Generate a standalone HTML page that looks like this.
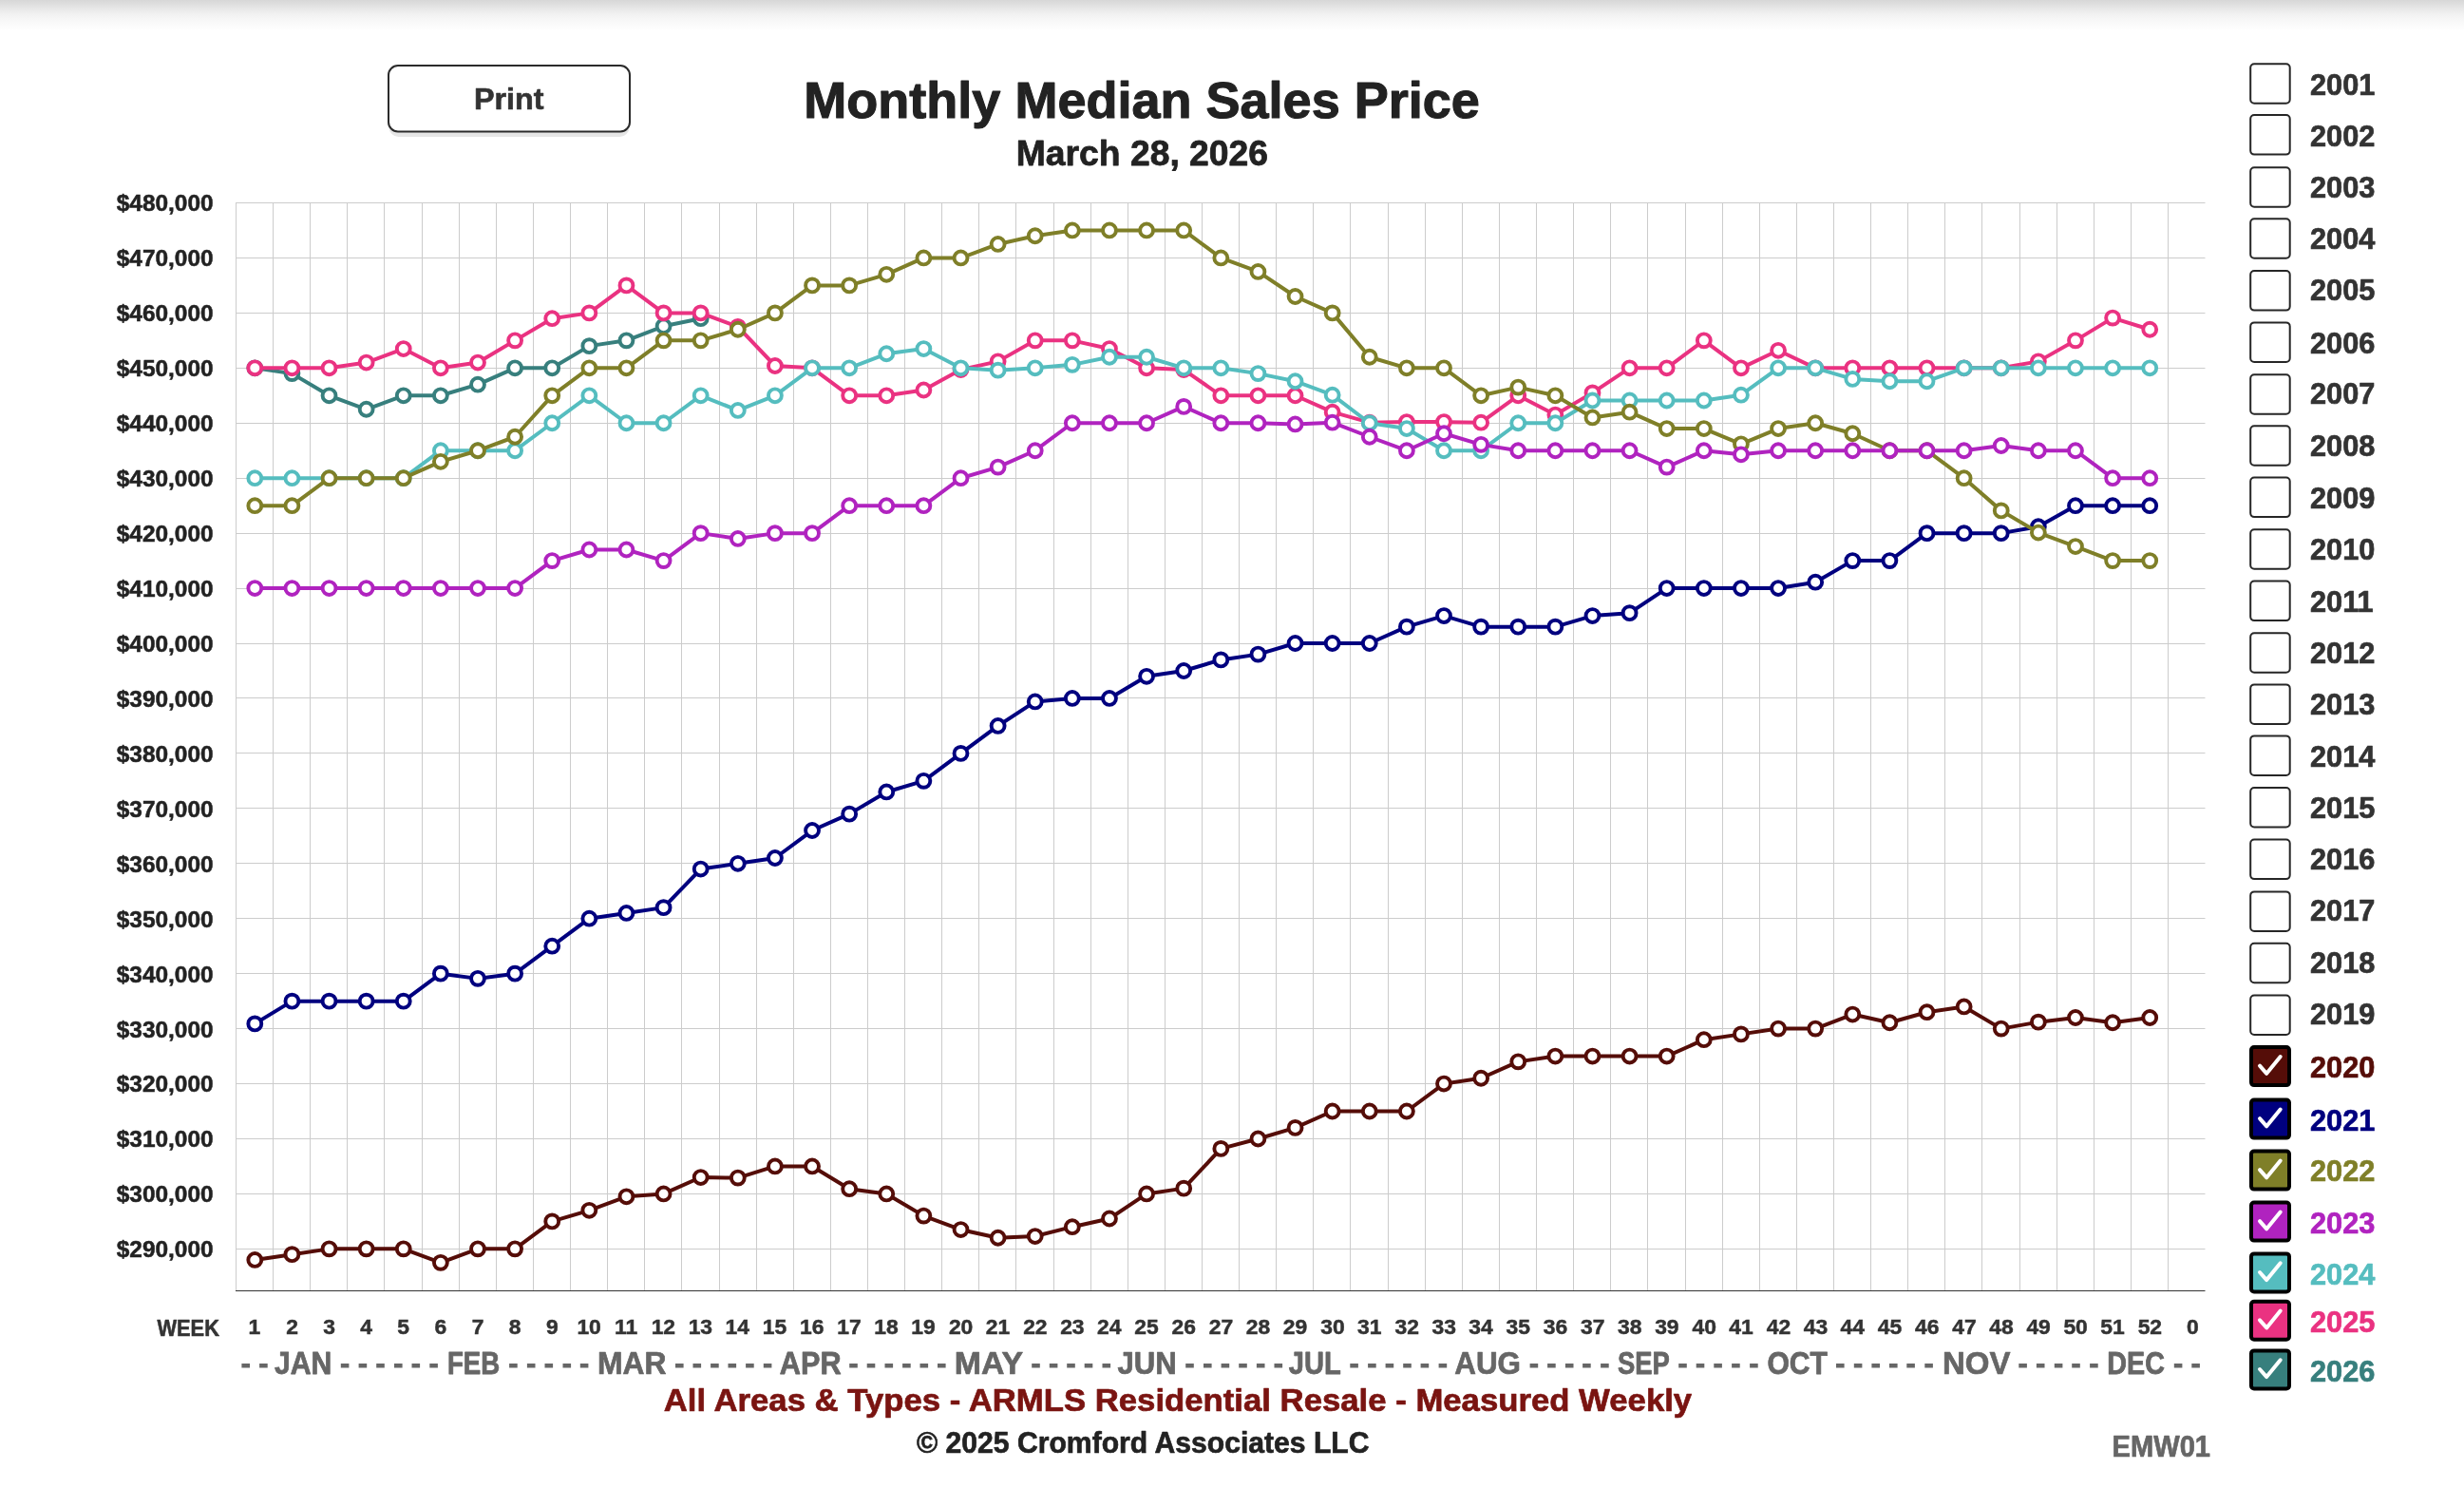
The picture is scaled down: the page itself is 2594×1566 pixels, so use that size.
<!DOCTYPE html>
<html><head><meta charset="utf-8"><title>Monthly Median Sales Price</title>
<style>
html,body{margin:0;padding:0;background:#fff;width:2594px;height:1566px;overflow:hidden}
svg{display:block;will-change:transform}
text{font-family:"Liberation Sans",sans-serif;font-weight:bold}
</style></head><body>
<svg width="2594" height="1566" viewBox="0 0 2594 1566">
<defs>
<linearGradient id="topsh" x1="0" y1="0" x2="0" y2="1">
<stop offset="0" stop-color="#d7d7d7"/>
<stop offset="0.16" stop-color="#e0e0e0"/>
<stop offset="0.31" stop-color="#e9e9e9"/>
<stop offset="0.47" stop-color="#f1f1f1"/>
<stop offset="0.62" stop-color="#f6f6f6"/>
<stop offset="0.78" stop-color="#fafafa"/>
<stop offset="0.92" stop-color="#fdfdfd"/>
<stop offset="1" stop-color="#ffffff"/>
</linearGradient>
</defs>
<rect x="0" y="0" width="2594" height="32" fill="url(#topsh)"/>

<rect x="409.5" y="74" width="253" height="70" rx="10" fill="#e6e6e6"/>
<rect x="409" y="69" width="254" height="69.5" rx="10" fill="#fff" stroke="#2b2b2b" stroke-width="2"/>
<path d="M248.50 213.50V1358.50M287.50 213.50V1358.50M326.50 213.50V1358.50M365.50 213.50V1358.50M404.50 213.50V1358.50M444.50 213.50V1358.50M483.50 213.50V1358.50M522.50 213.50V1358.50M561.50 213.50V1358.50M600.50 213.50V1358.50M639.50 213.50V1358.50M678.50 213.50V1358.50M717.50 213.50V1358.50M757.50 213.50V1358.50M796.50 213.50V1358.50M835.50 213.50V1358.50M874.50 213.50V1358.50M913.50 213.50V1358.50M952.50 213.50V1358.50M991.50 213.50V1358.50M1030.50 213.50V1358.50M1069.50 213.50V1358.50M1109.50 213.50V1358.50M1148.50 213.50V1358.50M1187.50 213.50V1358.50M1226.50 213.50V1358.50M1265.50 213.50V1358.50M1304.50 213.50V1358.50M1343.50 213.50V1358.50M1382.50 213.50V1358.50M1421.50 213.50V1358.50M1461.50 213.50V1358.50M1500.50 213.50V1358.50M1539.50 213.50V1358.50M1578.50 213.50V1358.50M1617.50 213.50V1358.50M1656.50 213.50V1358.50M1695.50 213.50V1358.50M1734.50 213.50V1358.50M1774.50 213.50V1358.50M1813.50 213.50V1358.50M1852.50 213.50V1358.50M1891.50 213.50V1358.50M1930.50 213.50V1358.50M1969.50 213.50V1358.50M2008.50 213.50V1358.50M2047.50 213.50V1358.50M2086.50 213.50V1358.50M2126.50 213.50V1358.50M2165.50 213.50V1358.50M2204.50 213.50V1358.50M2243.50 213.50V1358.50M2282.50 213.50V1358.50M248.00 1314.50H2321.50M248.00 1256.50H2321.50M248.00 1198.50H2321.50M248.00 1140.50H2321.50M248.00 1082.50H2321.50M248.00 1024.50H2321.50M248.00 966.50H2321.50M248.00 908.50H2321.50M248.00 850.50H2321.50M248.00 792.50H2321.50M248.00 734.50H2321.50M248.00 677.50H2321.50M248.00 619.50H2321.50M248.00 561.50H2321.50M248.00 503.50H2321.50M248.00 445.50H2321.50M248.00 387.50H2321.50M248.00 329.50H2321.50M248.00 271.50H2321.50M248.00 213.50H2321.50" stroke="#cccccc" stroke-width="1" fill="none"/>
<path d="M248.0 1358.5H2321.5" stroke="#333" stroke-width="1.2" fill="none"/>
<g><polyline points="268.30,387.32 307.42,393.11 346.53,416.29 385.65,430.77 424.76,416.29 463.88,416.29 503.00,404.70 542.11,387.32 581.23,387.32 620.34,364.14 659.46,358.35 698.58,343.29 737.69,335.17" fill="none" stroke="#377f7d" stroke-width="4" stroke-linejoin="round"/><g fill="#fff" stroke="#377f7d" stroke-width="3.9"><circle cx="268.30" cy="387.32" r="6.95"/><circle cx="307.42" cy="393.11" r="6.95"/><circle cx="346.53" cy="416.29" r="6.95"/><circle cx="385.65" cy="430.77" r="6.95"/><circle cx="424.76" cy="416.29" r="6.95"/><circle cx="463.88" cy="416.29" r="6.95"/><circle cx="503.00" cy="404.70" r="6.95"/><circle cx="542.11" cy="387.32" r="6.95"/><circle cx="581.23" cy="387.32" r="6.95"/><circle cx="620.34" cy="364.14" r="6.95"/><circle cx="659.46" cy="358.35" r="6.95"/><circle cx="698.58" cy="343.29" r="6.95"/><circle cx="737.69" cy="335.17" r="6.95"/></g></g>
<g><polyline points="268.30,387.32 307.42,387.32 346.53,387.32 385.65,381.53 424.76,367.04 463.88,387.32 503.00,381.53 542.11,358.35 581.23,335.17 620.34,329.38 659.46,300.41 698.58,329.38 737.69,329.38 776.81,343.87 815.92,385.00 855.04,387.32 894.16,416.29 933.27,416.29 972.39,410.50 1011.50,389.06 1050.62,380.37 1089.74,358.35 1128.85,358.35 1167.97,367.04 1207.08,387.32 1246.20,389.06 1285.32,416.29 1324.43,416.29 1363.55,416.29 1402.66,433.67 1441.78,444.68 1480.90,444.10 1520.01,444.10 1559.13,444.68 1598.24,416.29 1637.36,436.57 1676.48,413.39 1715.59,387.32 1754.71,387.32 1793.82,358.35 1832.94,387.32 1872.06,368.78 1911.17,387.32 1950.29,387.32 1989.40,387.32 2028.52,387.32 2067.64,387.32 2106.75,387.32 2145.87,380.37 2184.98,358.35 2224.10,334.59 2263.22,346.76" fill="none" stroke="#ea3281" stroke-width="4" stroke-linejoin="round"/><g fill="#fff" stroke="#ea3281" stroke-width="3.9"><circle cx="268.30" cy="387.32" r="6.95"/><circle cx="307.42" cy="387.32" r="6.95"/><circle cx="346.53" cy="387.32" r="6.95"/><circle cx="385.65" cy="381.53" r="6.95"/><circle cx="424.76" cy="367.04" r="6.95"/><circle cx="463.88" cy="387.32" r="6.95"/><circle cx="503.00" cy="381.53" r="6.95"/><circle cx="542.11" cy="358.35" r="6.95"/><circle cx="581.23" cy="335.17" r="6.95"/><circle cx="620.34" cy="329.38" r="6.95"/><circle cx="659.46" cy="300.41" r="6.95"/><circle cx="698.58" cy="329.38" r="6.95"/><circle cx="737.69" cy="329.38" r="6.95"/><circle cx="776.81" cy="343.87" r="6.95"/><circle cx="815.92" cy="385.00" r="6.95"/><circle cx="855.04" cy="387.32" r="6.95"/><circle cx="894.16" cy="416.29" r="6.95"/><circle cx="933.27" cy="416.29" r="6.95"/><circle cx="972.39" cy="410.50" r="6.95"/><circle cx="1011.50" cy="389.06" r="6.95"/><circle cx="1050.62" cy="380.37" r="6.95"/><circle cx="1089.74" cy="358.35" r="6.95"/><circle cx="1128.85" cy="358.35" r="6.95"/><circle cx="1167.97" cy="367.04" r="6.95"/><circle cx="1207.08" cy="387.32" r="6.95"/><circle cx="1246.20" cy="389.06" r="6.95"/><circle cx="1285.32" cy="416.29" r="6.95"/><circle cx="1324.43" cy="416.29" r="6.95"/><circle cx="1363.55" cy="416.29" r="6.95"/><circle cx="1402.66" cy="433.67" r="6.95"/><circle cx="1441.78" cy="444.68" r="6.95"/><circle cx="1480.90" cy="444.10" r="6.95"/><circle cx="1520.01" cy="444.10" r="6.95"/><circle cx="1559.13" cy="444.68" r="6.95"/><circle cx="1598.24" cy="416.29" r="6.95"/><circle cx="1637.36" cy="436.57" r="6.95"/><circle cx="1676.48" cy="413.39" r="6.95"/><circle cx="1715.59" cy="387.32" r="6.95"/><circle cx="1754.71" cy="387.32" r="6.95"/><circle cx="1793.82" cy="358.35" r="6.95"/><circle cx="1832.94" cy="387.32" r="6.95"/><circle cx="1872.06" cy="368.78" r="6.95"/><circle cx="1911.17" cy="387.32" r="6.95"/><circle cx="1950.29" cy="387.32" r="6.95"/><circle cx="1989.40" cy="387.32" r="6.95"/><circle cx="2028.52" cy="387.32" r="6.95"/><circle cx="2067.64" cy="387.32" r="6.95"/><circle cx="2106.75" cy="387.32" r="6.95"/><circle cx="2145.87" cy="380.37" r="6.95"/><circle cx="2184.98" cy="358.35" r="6.95"/><circle cx="2224.10" cy="334.59" r="6.95"/><circle cx="2263.22" cy="346.76" r="6.95"/></g></g>
<g><polyline points="268.30,503.20 307.42,503.20 346.53,503.20 385.65,503.20 424.76,503.20 463.88,474.23 503.00,474.23 542.11,474.23 581.23,445.26 620.34,416.29 659.46,445.26 698.58,445.26 737.69,416.29 776.81,431.93 815.92,416.29 855.04,387.32 894.16,387.32 933.27,372.26 972.39,367.04 1011.50,387.32 1050.62,389.64 1089.74,387.32 1128.85,383.84 1167.97,375.73 1207.08,375.73 1246.20,387.32 1285.32,387.32 1324.43,393.11 1363.55,401.23 1402.66,415.71 1441.78,445.26 1480.90,451.05 1520.01,474.23 1559.13,474.23 1598.24,445.26 1637.36,445.26 1676.48,421.50 1715.59,421.50 1754.71,421.50 1793.82,421.50 1832.94,415.71 1872.06,387.32 1911.17,387.32 1950.29,398.91 1989.40,401.23 2028.52,401.23 2067.64,387.32 2106.75,387.32 2145.87,387.32 2184.98,387.32 2224.10,387.32 2263.22,387.32" fill="none" stroke="#55bdbf" stroke-width="4" stroke-linejoin="round"/><g fill="#fff" stroke="#55bdbf" stroke-width="3.9"><circle cx="268.30" cy="503.20" r="6.95"/><circle cx="307.42" cy="503.20" r="6.95"/><circle cx="346.53" cy="503.20" r="6.95"/><circle cx="385.65" cy="503.20" r="6.95"/><circle cx="424.76" cy="503.20" r="6.95"/><circle cx="463.88" cy="474.23" r="6.95"/><circle cx="503.00" cy="474.23" r="6.95"/><circle cx="542.11" cy="474.23" r="6.95"/><circle cx="581.23" cy="445.26" r="6.95"/><circle cx="620.34" cy="416.29" r="6.95"/><circle cx="659.46" cy="445.26" r="6.95"/><circle cx="698.58" cy="445.26" r="6.95"/><circle cx="737.69" cy="416.29" r="6.95"/><circle cx="776.81" cy="431.93" r="6.95"/><circle cx="815.92" cy="416.29" r="6.95"/><circle cx="855.04" cy="387.32" r="6.95"/><circle cx="894.16" cy="387.32" r="6.95"/><circle cx="933.27" cy="372.26" r="6.95"/><circle cx="972.39" cy="367.04" r="6.95"/><circle cx="1011.50" cy="387.32" r="6.95"/><circle cx="1050.62" cy="389.64" r="6.95"/><circle cx="1089.74" cy="387.32" r="6.95"/><circle cx="1128.85" cy="383.84" r="6.95"/><circle cx="1167.97" cy="375.73" r="6.95"/><circle cx="1207.08" cy="375.73" r="6.95"/><circle cx="1246.20" cy="387.32" r="6.95"/><circle cx="1285.32" cy="387.32" r="6.95"/><circle cx="1324.43" cy="393.11" r="6.95"/><circle cx="1363.55" cy="401.23" r="6.95"/><circle cx="1402.66" cy="415.71" r="6.95"/><circle cx="1441.78" cy="445.26" r="6.95"/><circle cx="1480.90" cy="451.05" r="6.95"/><circle cx="1520.01" cy="474.23" r="6.95"/><circle cx="1559.13" cy="474.23" r="6.95"/><circle cx="1598.24" cy="445.26" r="6.95"/><circle cx="1637.36" cy="445.26" r="6.95"/><circle cx="1676.48" cy="421.50" r="6.95"/><circle cx="1715.59" cy="421.50" r="6.95"/><circle cx="1754.71" cy="421.50" r="6.95"/><circle cx="1793.82" cy="421.50" r="6.95"/><circle cx="1832.94" cy="415.71" r="6.95"/><circle cx="1872.06" cy="387.32" r="6.95"/><circle cx="1911.17" cy="387.32" r="6.95"/><circle cx="1950.29" cy="398.91" r="6.95"/><circle cx="1989.40" cy="401.23" r="6.95"/><circle cx="2028.52" cy="401.23" r="6.95"/><circle cx="2067.64" cy="387.32" r="6.95"/><circle cx="2106.75" cy="387.32" r="6.95"/><circle cx="2145.87" cy="387.32" r="6.95"/><circle cx="2184.98" cy="387.32" r="6.95"/><circle cx="2224.10" cy="387.32" r="6.95"/><circle cx="2263.22" cy="387.32" r="6.95"/></g></g>
<g><polyline points="268.30,1325.95 307.42,1320.15 346.53,1314.36 385.65,1314.36 424.76,1314.36 463.88,1328.85 503.00,1314.36 542.11,1314.36 581.23,1285.39 620.34,1273.80 659.46,1259.32 698.58,1256.42 737.69,1239.04 776.81,1239.62 815.92,1227.45 855.04,1227.45 894.16,1251.21 933.27,1256.42 972.39,1279.60 1011.50,1294.08 1050.62,1302.77 1089.74,1301.03 1128.85,1291.18 1167.97,1282.49 1207.08,1256.42 1246.20,1250.63 1285.32,1208.91 1324.43,1198.48 1363.55,1186.89 1402.66,1169.51 1441.78,1169.51 1480.90,1169.51 1520.01,1140.54 1559.13,1134.75 1598.24,1117.36 1637.36,1111.57 1676.48,1111.57 1715.59,1111.57 1754.71,1111.57 1793.82,1094.19 1832.94,1088.39 1872.06,1082.60 1911.17,1082.60 1950.29,1067.54 1989.40,1076.23 2028.52,1065.22 2067.64,1059.42 2106.75,1082.60 2145.87,1075.65 2184.98,1071.01 2224.10,1076.23 2263.22,1071.01" fill="none" stroke="#550d08" stroke-width="4" stroke-linejoin="round"/><g fill="#fff" stroke="#550d08" stroke-width="3.9"><circle cx="268.30" cy="1325.95" r="6.95"/><circle cx="307.42" cy="1320.15" r="6.95"/><circle cx="346.53" cy="1314.36" r="6.95"/><circle cx="385.65" cy="1314.36" r="6.95"/><circle cx="424.76" cy="1314.36" r="6.95"/><circle cx="463.88" cy="1328.85" r="6.95"/><circle cx="503.00" cy="1314.36" r="6.95"/><circle cx="542.11" cy="1314.36" r="6.95"/><circle cx="581.23" cy="1285.39" r="6.95"/><circle cx="620.34" cy="1273.80" r="6.95"/><circle cx="659.46" cy="1259.32" r="6.95"/><circle cx="698.58" cy="1256.42" r="6.95"/><circle cx="737.69" cy="1239.04" r="6.95"/><circle cx="776.81" cy="1239.62" r="6.95"/><circle cx="815.92" cy="1227.45" r="6.95"/><circle cx="855.04" cy="1227.45" r="6.95"/><circle cx="894.16" cy="1251.21" r="6.95"/><circle cx="933.27" cy="1256.42" r="6.95"/><circle cx="972.39" cy="1279.60" r="6.95"/><circle cx="1011.50" cy="1294.08" r="6.95"/><circle cx="1050.62" cy="1302.77" r="6.95"/><circle cx="1089.74" cy="1301.03" r="6.95"/><circle cx="1128.85" cy="1291.18" r="6.95"/><circle cx="1167.97" cy="1282.49" r="6.95"/><circle cx="1207.08" cy="1256.42" r="6.95"/><circle cx="1246.20" cy="1250.63" r="6.95"/><circle cx="1285.32" cy="1208.91" r="6.95"/><circle cx="1324.43" cy="1198.48" r="6.95"/><circle cx="1363.55" cy="1186.89" r="6.95"/><circle cx="1402.66" cy="1169.51" r="6.95"/><circle cx="1441.78" cy="1169.51" r="6.95"/><circle cx="1480.90" cy="1169.51" r="6.95"/><circle cx="1520.01" cy="1140.54" r="6.95"/><circle cx="1559.13" cy="1134.75" r="6.95"/><circle cx="1598.24" cy="1117.36" r="6.95"/><circle cx="1637.36" cy="1111.57" r="6.95"/><circle cx="1676.48" cy="1111.57" r="6.95"/><circle cx="1715.59" cy="1111.57" r="6.95"/><circle cx="1754.71" cy="1111.57" r="6.95"/><circle cx="1793.82" cy="1094.19" r="6.95"/><circle cx="1832.94" cy="1088.39" r="6.95"/><circle cx="1872.06" cy="1082.60" r="6.95"/><circle cx="1911.17" cy="1082.60" r="6.95"/><circle cx="1950.29" cy="1067.54" r="6.95"/><circle cx="1989.40" cy="1076.23" r="6.95"/><circle cx="2028.52" cy="1065.22" r="6.95"/><circle cx="2067.64" cy="1059.42" r="6.95"/><circle cx="2106.75" cy="1082.60" r="6.95"/><circle cx="2145.87" cy="1075.65" r="6.95"/><circle cx="2184.98" cy="1071.01" r="6.95"/><circle cx="2224.10" cy="1076.23" r="6.95"/><circle cx="2263.22" cy="1071.01" r="6.95"/></g></g>
<g><polyline points="268.30,1077.39 307.42,1053.63 346.53,1053.63 385.65,1053.63 424.76,1053.63 463.88,1024.66 503.00,1029.87 542.11,1024.66 581.23,995.69 620.34,966.72 659.46,960.93 698.58,955.13 737.69,914.57 776.81,908.78 815.92,902.99 855.04,874.02 894.16,856.63 933.27,833.46 972.39,821.87 1011.50,792.90 1050.62,763.93 1089.74,738.44 1128.85,734.96 1167.97,734.96 1207.08,711.78 1246.20,705.99 1285.32,694.40 1324.43,688.61 1363.55,677.02 1402.66,677.02 1441.78,677.02 1480.90,659.64 1520.01,648.05 1559.13,659.64 1598.24,659.64 1637.36,659.64 1676.48,648.05 1715.59,645.15 1754.71,619.08 1793.82,619.08 1832.94,619.08 1872.06,619.08 1911.17,612.71 1950.29,590.11 1989.40,590.11 2028.52,561.14 2067.64,561.14 2106.75,561.14 2145.87,554.19 2184.98,532.17 2224.10,532.17 2263.22,532.17" fill="none" stroke="#00007f" stroke-width="4" stroke-linejoin="round"/><g fill="#fff" stroke="#00007f" stroke-width="3.9"><circle cx="268.30" cy="1077.39" r="6.95"/><circle cx="307.42" cy="1053.63" r="6.95"/><circle cx="346.53" cy="1053.63" r="6.95"/><circle cx="385.65" cy="1053.63" r="6.95"/><circle cx="424.76" cy="1053.63" r="6.95"/><circle cx="463.88" cy="1024.66" r="6.95"/><circle cx="503.00" cy="1029.87" r="6.95"/><circle cx="542.11" cy="1024.66" r="6.95"/><circle cx="581.23" cy="995.69" r="6.95"/><circle cx="620.34" cy="966.72" r="6.95"/><circle cx="659.46" cy="960.93" r="6.95"/><circle cx="698.58" cy="955.13" r="6.95"/><circle cx="737.69" cy="914.57" r="6.95"/><circle cx="776.81" cy="908.78" r="6.95"/><circle cx="815.92" cy="902.99" r="6.95"/><circle cx="855.04" cy="874.02" r="6.95"/><circle cx="894.16" cy="856.63" r="6.95"/><circle cx="933.27" cy="833.46" r="6.95"/><circle cx="972.39" cy="821.87" r="6.95"/><circle cx="1011.50" cy="792.90" r="6.95"/><circle cx="1050.62" cy="763.93" r="6.95"/><circle cx="1089.74" cy="738.44" r="6.95"/><circle cx="1128.85" cy="734.96" r="6.95"/><circle cx="1167.97" cy="734.96" r="6.95"/><circle cx="1207.08" cy="711.78" r="6.95"/><circle cx="1246.20" cy="705.99" r="6.95"/><circle cx="1285.32" cy="694.40" r="6.95"/><circle cx="1324.43" cy="688.61" r="6.95"/><circle cx="1363.55" cy="677.02" r="6.95"/><circle cx="1402.66" cy="677.02" r="6.95"/><circle cx="1441.78" cy="677.02" r="6.95"/><circle cx="1480.90" cy="659.64" r="6.95"/><circle cx="1520.01" cy="648.05" r="6.95"/><circle cx="1559.13" cy="659.64" r="6.95"/><circle cx="1598.24" cy="659.64" r="6.95"/><circle cx="1637.36" cy="659.64" r="6.95"/><circle cx="1676.48" cy="648.05" r="6.95"/><circle cx="1715.59" cy="645.15" r="6.95"/><circle cx="1754.71" cy="619.08" r="6.95"/><circle cx="1793.82" cy="619.08" r="6.95"/><circle cx="1832.94" cy="619.08" r="6.95"/><circle cx="1872.06" cy="619.08" r="6.95"/><circle cx="1911.17" cy="612.71" r="6.95"/><circle cx="1950.29" cy="590.11" r="6.95"/><circle cx="1989.40" cy="590.11" r="6.95"/><circle cx="2028.52" cy="561.14" r="6.95"/><circle cx="2067.64" cy="561.14" r="6.95"/><circle cx="2106.75" cy="561.14" r="6.95"/><circle cx="2145.87" cy="554.19" r="6.95"/><circle cx="2184.98" cy="532.17" r="6.95"/><circle cx="2224.10" cy="532.17" r="6.95"/><circle cx="2263.22" cy="532.17" r="6.95"/></g></g>
<g><polyline points="268.30,532.17 307.42,532.17 346.53,503.20 385.65,503.20 424.76,503.20 463.88,485.82 503.00,474.23 542.11,459.75 581.23,416.29 620.34,387.32 659.46,387.32 698.58,358.35 737.69,358.35 776.81,346.76 815.92,329.38 855.04,300.41 894.16,300.41 933.27,288.82 972.39,271.44 1011.50,271.44 1050.62,256.95 1089.74,248.26 1128.85,242.47 1167.97,242.47 1207.08,242.47 1246.20,242.47 1285.32,271.44 1324.43,285.93 1363.55,312.00 1402.66,329.38 1441.78,375.73 1480.90,387.32 1520.01,387.32 1559.13,416.29 1598.24,407.60 1637.36,416.29 1676.48,439.47 1715.59,433.67 1754.71,451.05 1793.82,451.05 1832.94,467.28 1872.06,451.05 1911.17,445.26 1950.29,456.27 1989.40,474.23 2028.52,474.23 2067.64,503.20 2106.75,537.38 2145.87,560.56 2184.98,575.05 2224.10,590.11 2263.22,590.11" fill="none" stroke="#7f7f28" stroke-width="4" stroke-linejoin="round"/><g fill="#fff" stroke="#7f7f28" stroke-width="3.9"><circle cx="268.30" cy="532.17" r="6.95"/><circle cx="307.42" cy="532.17" r="6.95"/><circle cx="346.53" cy="503.20" r="6.95"/><circle cx="385.65" cy="503.20" r="6.95"/><circle cx="424.76" cy="503.20" r="6.95"/><circle cx="463.88" cy="485.82" r="6.95"/><circle cx="503.00" cy="474.23" r="6.95"/><circle cx="542.11" cy="459.75" r="6.95"/><circle cx="581.23" cy="416.29" r="6.95"/><circle cx="620.34" cy="387.32" r="6.95"/><circle cx="659.46" cy="387.32" r="6.95"/><circle cx="698.58" cy="358.35" r="6.95"/><circle cx="737.69" cy="358.35" r="6.95"/><circle cx="776.81" cy="346.76" r="6.95"/><circle cx="815.92" cy="329.38" r="6.95"/><circle cx="855.04" cy="300.41" r="6.95"/><circle cx="894.16" cy="300.41" r="6.95"/><circle cx="933.27" cy="288.82" r="6.95"/><circle cx="972.39" cy="271.44" r="6.95"/><circle cx="1011.50" cy="271.44" r="6.95"/><circle cx="1050.62" cy="256.95" r="6.95"/><circle cx="1089.74" cy="248.26" r="6.95"/><circle cx="1128.85" cy="242.47" r="6.95"/><circle cx="1167.97" cy="242.47" r="6.95"/><circle cx="1207.08" cy="242.47" r="6.95"/><circle cx="1246.20" cy="242.47" r="6.95"/><circle cx="1285.32" cy="271.44" r="6.95"/><circle cx="1324.43" cy="285.93" r="6.95"/><circle cx="1363.55" cy="312.00" r="6.95"/><circle cx="1402.66" cy="329.38" r="6.95"/><circle cx="1441.78" cy="375.73" r="6.95"/><circle cx="1480.90" cy="387.32" r="6.95"/><circle cx="1520.01" cy="387.32" r="6.95"/><circle cx="1559.13" cy="416.29" r="6.95"/><circle cx="1598.24" cy="407.60" r="6.95"/><circle cx="1637.36" cy="416.29" r="6.95"/><circle cx="1676.48" cy="439.47" r="6.95"/><circle cx="1715.59" cy="433.67" r="6.95"/><circle cx="1754.71" cy="451.05" r="6.95"/><circle cx="1793.82" cy="451.05" r="6.95"/><circle cx="1832.94" cy="467.28" r="6.95"/><circle cx="1872.06" cy="451.05" r="6.95"/><circle cx="1911.17" cy="445.26" r="6.95"/><circle cx="1950.29" cy="456.27" r="6.95"/><circle cx="1989.40" cy="474.23" r="6.95"/><circle cx="2028.52" cy="474.23" r="6.95"/><circle cx="2067.64" cy="503.20" r="6.95"/><circle cx="2106.75" cy="537.38" r="6.95"/><circle cx="2145.87" cy="560.56" r="6.95"/><circle cx="2184.98" cy="575.05" r="6.95"/><circle cx="2224.10" cy="590.11" r="6.95"/><circle cx="2263.22" cy="590.11" r="6.95"/></g></g>
<g><polyline points="268.30,619.08 307.42,619.08 346.53,619.08 385.65,619.08 424.76,619.08 463.88,619.08 503.00,619.08 542.11,619.08 581.23,590.11 620.34,578.52 659.46,578.52 698.58,590.11 737.69,561.14 776.81,566.93 815.92,561.14 855.04,561.14 894.16,532.17 933.27,532.17 972.39,532.17 1011.50,503.20 1050.62,491.61 1089.74,474.23 1128.85,445.26 1167.97,445.26 1207.08,445.26 1246.20,427.88 1285.32,445.26 1324.43,445.26 1363.55,446.42 1402.66,444.68 1441.78,459.75 1480.90,474.23 1520.01,456.27 1559.13,467.86 1598.24,474.23 1637.36,474.23 1676.48,474.23 1715.59,474.23 1754.71,491.61 1793.82,474.23 1832.94,478.29 1872.06,474.23 1911.17,474.23 1950.29,474.23 1989.40,474.23 2028.52,474.23 2067.64,474.23 2106.75,469.02 2145.87,474.23 2184.98,474.23 2224.10,503.20 2263.22,503.20" fill="none" stroke="#b023bf" stroke-width="4" stroke-linejoin="round"/><g fill="#fff" stroke="#b023bf" stroke-width="3.9"><circle cx="268.30" cy="619.08" r="6.95"/><circle cx="307.42" cy="619.08" r="6.95"/><circle cx="346.53" cy="619.08" r="6.95"/><circle cx="385.65" cy="619.08" r="6.95"/><circle cx="424.76" cy="619.08" r="6.95"/><circle cx="463.88" cy="619.08" r="6.95"/><circle cx="503.00" cy="619.08" r="6.95"/><circle cx="542.11" cy="619.08" r="6.95"/><circle cx="581.23" cy="590.11" r="6.95"/><circle cx="620.34" cy="578.52" r="6.95"/><circle cx="659.46" cy="578.52" r="6.95"/><circle cx="698.58" cy="590.11" r="6.95"/><circle cx="737.69" cy="561.14" r="6.95"/><circle cx="776.81" cy="566.93" r="6.95"/><circle cx="815.92" cy="561.14" r="6.95"/><circle cx="855.04" cy="561.14" r="6.95"/><circle cx="894.16" cy="532.17" r="6.95"/><circle cx="933.27" cy="532.17" r="6.95"/><circle cx="972.39" cy="532.17" r="6.95"/><circle cx="1011.50" cy="503.20" r="6.95"/><circle cx="1050.62" cy="491.61" r="6.95"/><circle cx="1089.74" cy="474.23" r="6.95"/><circle cx="1128.85" cy="445.26" r="6.95"/><circle cx="1167.97" cy="445.26" r="6.95"/><circle cx="1207.08" cy="445.26" r="6.95"/><circle cx="1246.20" cy="427.88" r="6.95"/><circle cx="1285.32" cy="445.26" r="6.95"/><circle cx="1324.43" cy="445.26" r="6.95"/><circle cx="1363.55" cy="446.42" r="6.95"/><circle cx="1402.66" cy="444.68" r="6.95"/><circle cx="1441.78" cy="459.75" r="6.95"/><circle cx="1480.90" cy="474.23" r="6.95"/><circle cx="1520.01" cy="456.27" r="6.95"/><circle cx="1559.13" cy="467.86" r="6.95"/><circle cx="1598.24" cy="474.23" r="6.95"/><circle cx="1637.36" cy="474.23" r="6.95"/><circle cx="1676.48" cy="474.23" r="6.95"/><circle cx="1715.59" cy="474.23" r="6.95"/><circle cx="1754.71" cy="491.61" r="6.95"/><circle cx="1793.82" cy="474.23" r="6.95"/><circle cx="1832.94" cy="478.29" r="6.95"/><circle cx="1872.06" cy="474.23" r="6.95"/><circle cx="1911.17" cy="474.23" r="6.95"/><circle cx="1950.29" cy="474.23" r="6.95"/><circle cx="1989.40" cy="474.23" r="6.95"/><circle cx="2028.52" cy="474.23" r="6.95"/><circle cx="2067.64" cy="474.23" r="6.95"/><circle cx="2106.75" cy="469.02" r="6.95"/><circle cx="2145.87" cy="474.23" r="6.95"/><circle cx="2184.98" cy="474.23" r="6.95"/><circle cx="2224.10" cy="503.20" r="6.95"/><circle cx="2263.22" cy="503.20" r="6.95"/></g></g>
<text transform="translate(498.99,114.77) scale(1.0404,1)" font-size="31.07" fill="#333" stroke="#333" stroke-width="0.64" stroke-linejoin="round">Print</text>
<text transform="translate(846.32,124.24) scale(1.0224,1)" font-size="52.86" fill="#222" stroke="#222" stroke-width="1.10" stroke-linejoin="round">Monthly Median Sales Price</text>
<text transform="translate(1069.65,173.51) scale(1.0247,1)" font-size="36.41" fill="#222" stroke="#222" stroke-width="0.76" stroke-linejoin="round">March 28, 2026</text>
<text transform="translate(122.71,1323.30) scale(1.0263,1)" font-size="23.83" fill="#222" stroke="#222" stroke-width="0.50" stroke-linejoin="round">$290,000</text>
<text transform="translate(122.71,1265.36) scale(1.0263,1)" font-size="23.83" fill="#222" stroke="#222" stroke-width="0.50" stroke-linejoin="round">$300,000</text>
<text transform="translate(122.71,1207.42) scale(1.0263,1)" font-size="23.83" fill="#222" stroke="#222" stroke-width="0.50" stroke-linejoin="round">$310,000</text>
<text transform="translate(122.71,1149.48) scale(1.0263,1)" font-size="23.83" fill="#222" stroke="#222" stroke-width="0.50" stroke-linejoin="round">$320,000</text>
<text transform="translate(122.71,1091.54) scale(1.0263,1)" font-size="23.83" fill="#222" stroke="#222" stroke-width="0.50" stroke-linejoin="round">$330,000</text>
<text transform="translate(122.71,1033.60) scale(1.0263,1)" font-size="23.83" fill="#222" stroke="#222" stroke-width="0.50" stroke-linejoin="round">$340,000</text>
<text transform="translate(122.71,975.66) scale(1.0263,1)" font-size="23.83" fill="#222" stroke="#222" stroke-width="0.50" stroke-linejoin="round">$350,000</text>
<text transform="translate(122.71,917.72) scale(1.0263,1)" font-size="23.83" fill="#222" stroke="#222" stroke-width="0.50" stroke-linejoin="round">$360,000</text>
<text transform="translate(122.71,859.78) scale(1.0263,1)" font-size="23.83" fill="#222" stroke="#222" stroke-width="0.50" stroke-linejoin="round">$370,000</text>
<text transform="translate(122.71,801.84) scale(1.0263,1)" font-size="23.83" fill="#222" stroke="#222" stroke-width="0.50" stroke-linejoin="round">$380,000</text>
<text transform="translate(122.71,743.90) scale(1.0263,1)" font-size="23.83" fill="#222" stroke="#222" stroke-width="0.50" stroke-linejoin="round">$390,000</text>
<text transform="translate(122.71,685.96) scale(1.0263,1)" font-size="23.83" fill="#222" stroke="#222" stroke-width="0.50" stroke-linejoin="round">$400,000</text>
<text transform="translate(122.71,628.02) scale(1.0263,1)" font-size="23.83" fill="#222" stroke="#222" stroke-width="0.50" stroke-linejoin="round">$410,000</text>
<text transform="translate(122.71,570.08) scale(1.0263,1)" font-size="23.83" fill="#222" stroke="#222" stroke-width="0.50" stroke-linejoin="round">$420,000</text>
<text transform="translate(122.71,512.14) scale(1.0263,1)" font-size="23.83" fill="#222" stroke="#222" stroke-width="0.50" stroke-linejoin="round">$430,000</text>
<text transform="translate(122.71,454.20) scale(1.0263,1)" font-size="23.83" fill="#222" stroke="#222" stroke-width="0.50" stroke-linejoin="round">$440,000</text>
<text transform="translate(122.71,396.26) scale(1.0263,1)" font-size="23.83" fill="#222" stroke="#222" stroke-width="0.50" stroke-linejoin="round">$450,000</text>
<text transform="translate(122.71,338.32) scale(1.0263,1)" font-size="23.83" fill="#222" stroke="#222" stroke-width="0.50" stroke-linejoin="round">$460,000</text>
<text transform="translate(122.71,280.38) scale(1.0263,1)" font-size="23.83" fill="#222" stroke="#222" stroke-width="0.50" stroke-linejoin="round">$470,000</text>
<text transform="translate(122.71,222.44) scale(1.0263,1)" font-size="23.83" fill="#222" stroke="#222" stroke-width="0.50" stroke-linejoin="round">$480,000</text>
<text transform="translate(165.46,1405.74) scale(0.8823,1)" font-size="24.74" fill="#333" stroke="#333" stroke-width="0.60" stroke-linejoin="round">WEEK</text>
<text transform="translate(698.72,1484.64) scale(1.0318,1)" font-size="33.67" fill="#7a1411" stroke="#7a1411" stroke-width="0.71" stroke-linejoin="round">All Areas &amp; Types - ARMLS Residential Resale - Measured Weekly</text>
<text transform="translate(965.02,1529.37) scale(0.9879,1)" font-size="30.51" fill="#222" stroke="#222" stroke-width="0.66" stroke-linejoin="round">© 2025 Cromford Associates LLC</text>
<text transform="translate(2223.58,1533.47) scale(0.9492,1)" font-size="30.65" fill="#666" stroke="#666" stroke-width="0.69" stroke-linejoin="round">EMW01</text>
<text transform="translate(289.05,1445.65) scale(0.9207,1)" font-size="32.76" fill="#666" stroke="#666" stroke-width="0.76" stroke-linejoin="round">JAN</text>
<text transform="translate(470.89,1445.65) scale(0.8436,1)" font-size="32.76" fill="#666" stroke="#666" stroke-width="0.83" stroke-linejoin="round">FEB</text>
<text transform="translate(628.94,1445.65) scale(0.9714,1)" font-size="32.76" fill="#666" stroke="#666" stroke-width="0.72" stroke-linejoin="round">MAR</text>
<text transform="translate(820.83,1445.65) scale(0.9367,1)" font-size="32.76" fill="#666" stroke="#666" stroke-width="0.75" stroke-linejoin="round">APR</text>
<text transform="translate(1004.82,1445.65) scale(1.0350,1)" font-size="32.76" fill="#666" stroke="#666" stroke-width="0.68" stroke-linejoin="round">MAY</text>
<text transform="translate(1176.54,1445.65) scale(0.9509,1)" font-size="32.76" fill="#666" stroke="#666" stroke-width="0.74" stroke-linejoin="round">JUN</text>
<text transform="translate(1356.76,1445.65) scale(0.8879,1)" font-size="32.76" fill="#666" stroke="#666" stroke-width="0.79" stroke-linejoin="round">JUL</text>
<text transform="translate(1531.31,1445.65) scale(0.9575,1)" font-size="32.76" fill="#666" stroke="#666" stroke-width="0.73" stroke-linejoin="round">AUG</text>
<text transform="translate(1702.93,1445.65) scale(0.8356,1)" font-size="32.76" fill="#666" stroke="#666" stroke-width="0.84" stroke-linejoin="round">SEP</text>
<text transform="translate(1860.45,1445.65) scale(0.9189,1)" font-size="32.76" fill="#666" stroke="#666" stroke-width="0.76" stroke-linejoin="round">OCT</text>
<text transform="translate(2044.97,1445.65) scale(1.0075,1)" font-size="32.76" fill="#666" stroke="#666" stroke-width="0.69" stroke-linejoin="round">NOV</text>
<text transform="translate(2218.33,1445.65) scale(0.8768,1)" font-size="32.76" fill="#666" stroke="#666" stroke-width="0.80" stroke-linejoin="round">DEC</text>
<text transform="translate(261.55,1404) scale(1.0069,1)" font-size="22.71" fill="#333" stroke="#333" stroke-width="0.50">1</text>
<text transform="translate(301.13,1404) scale(1.0069,1)" font-size="22.71" fill="#333" stroke="#333" stroke-width="0.50">2</text>
<text transform="translate(340.36,1404) scale(1.0069,1)" font-size="22.71" fill="#333" stroke="#333" stroke-width="0.50">3</text>
<text transform="translate(379.24,1404) scale(1.0069,1)" font-size="22.71" fill="#333" stroke="#333" stroke-width="0.50">4</text>
<text transform="translate(418.36,1404) scale(1.0069,1)" font-size="22.71" fill="#333" stroke="#333" stroke-width="0.50">5</text>
<text transform="translate(457.59,1404) scale(1.0069,1)" font-size="22.71" fill="#333" stroke="#333" stroke-width="0.50">6</text>
<text transform="translate(496.71,1404) scale(1.0069,1)" font-size="22.71" fill="#333" stroke="#333" stroke-width="0.50">7</text>
<text transform="translate(535.71,1404) scale(1.0069,1)" font-size="22.71" fill="#333" stroke="#333" stroke-width="0.50">8</text>
<text transform="translate(574.94,1404) scale(1.0069,1)" font-size="22.71" fill="#333" stroke="#333" stroke-width="0.50">9</text>
<text transform="translate(607.42,1404) scale(1.0069,1)" font-size="22.71" fill="#333" stroke="#333" stroke-width="0.50">10</text>
<text transform="translate(647.00,1404) scale(1.0069,1)" font-size="22.71" fill="#333" stroke="#333" stroke-width="0.50">11</text>
<text transform="translate(685.65,1404) scale(1.0069,1)" font-size="22.71" fill="#333" stroke="#333" stroke-width="0.50">12</text>
<text transform="translate(724.66,1404) scale(1.0069,1)" font-size="22.71" fill="#333" stroke="#333" stroke-width="0.50">13</text>
<text transform="translate(763.43,1404) scale(1.0069,1)" font-size="22.71" fill="#333" stroke="#333" stroke-width="0.50">14</text>
<text transform="translate(802.77,1404) scale(1.0069,1)" font-size="22.71" fill="#333" stroke="#333" stroke-width="0.50">15</text>
<text transform="translate(842.00,1404) scale(1.0069,1)" font-size="22.71" fill="#333" stroke="#333" stroke-width="0.50">16</text>
<text transform="translate(881.23,1404) scale(1.0069,1)" font-size="22.71" fill="#333" stroke="#333" stroke-width="0.50">17</text>
<text transform="translate(920.24,1404) scale(1.0069,1)" font-size="22.71" fill="#333" stroke="#333" stroke-width="0.50">18</text>
<text transform="translate(959.35,1404) scale(1.0069,1)" font-size="22.71" fill="#333" stroke="#333" stroke-width="0.50">19</text>
<text transform="translate(998.92,1404) scale(1.0069,1)" font-size="22.71" fill="#333" stroke="#333" stroke-width="0.50">20</text>
<text transform="translate(1037.81,1404) scale(1.0069,1)" font-size="22.71" fill="#333" stroke="#333" stroke-width="0.50">21</text>
<text transform="translate(1077.16,1404) scale(1.0069,1)" font-size="22.71" fill="#333" stroke="#333" stroke-width="0.50">22</text>
<text transform="translate(1116.16,1404) scale(1.0069,1)" font-size="22.71" fill="#333" stroke="#333" stroke-width="0.50">23</text>
<text transform="translate(1154.93,1404) scale(1.0069,1)" font-size="22.71" fill="#333" stroke="#333" stroke-width="0.50">24</text>
<text transform="translate(1194.28,1404) scale(1.0069,1)" font-size="22.71" fill="#333" stroke="#333" stroke-width="0.50">25</text>
<text transform="translate(1233.51,1404) scale(1.0069,1)" font-size="22.71" fill="#333" stroke="#333" stroke-width="0.50">26</text>
<text transform="translate(1272.74,1404) scale(1.0069,1)" font-size="22.71" fill="#333" stroke="#333" stroke-width="0.50">27</text>
<text transform="translate(1311.74,1404) scale(1.0069,1)" font-size="22.71" fill="#333" stroke="#333" stroke-width="0.50">28</text>
<text transform="translate(1350.85,1404) scale(1.0069,1)" font-size="22.71" fill="#333" stroke="#333" stroke-width="0.50">29</text>
<text transform="translate(1390.20,1404) scale(1.0069,1)" font-size="22.71" fill="#333" stroke="#333" stroke-width="0.50">30</text>
<text transform="translate(1429.09,1404) scale(1.0069,1)" font-size="22.71" fill="#333" stroke="#333" stroke-width="0.50">31</text>
<text transform="translate(1468.43,1404) scale(1.0069,1)" font-size="22.71" fill="#333" stroke="#333" stroke-width="0.50">32</text>
<text transform="translate(1507.43,1404) scale(1.0069,1)" font-size="22.71" fill="#333" stroke="#333" stroke-width="0.50">33</text>
<text transform="translate(1546.21,1404) scale(1.0069,1)" font-size="22.71" fill="#333" stroke="#333" stroke-width="0.50">34</text>
<text transform="translate(1585.55,1404) scale(1.0069,1)" font-size="22.71" fill="#333" stroke="#333" stroke-width="0.50">35</text>
<text transform="translate(1624.78,1404) scale(1.0069,1)" font-size="22.71" fill="#333" stroke="#333" stroke-width="0.50">36</text>
<text transform="translate(1664.01,1404) scale(1.0069,1)" font-size="22.71" fill="#333" stroke="#333" stroke-width="0.50">37</text>
<text transform="translate(1703.01,1404) scale(1.0069,1)" font-size="22.71" fill="#333" stroke="#333" stroke-width="0.50">38</text>
<text transform="translate(1742.13,1404) scale(1.0069,1)" font-size="22.71" fill="#333" stroke="#333" stroke-width="0.50">39</text>
<text transform="translate(1781.47,1404) scale(1.0069,1)" font-size="22.71" fill="#333" stroke="#333" stroke-width="0.50">40</text>
<text transform="translate(1820.36,1404) scale(1.0069,1)" font-size="22.71" fill="#333" stroke="#333" stroke-width="0.50">41</text>
<text transform="translate(1859.71,1404) scale(1.0069,1)" font-size="22.71" fill="#333" stroke="#333" stroke-width="0.50">42</text>
<text transform="translate(1898.71,1404) scale(1.0069,1)" font-size="22.71" fill="#333" stroke="#333" stroke-width="0.50">43</text>
<text transform="translate(1937.48,1404) scale(1.0069,1)" font-size="22.71" fill="#333" stroke="#333" stroke-width="0.50">44</text>
<text transform="translate(1976.82,1404) scale(1.0069,1)" font-size="22.71" fill="#333" stroke="#333" stroke-width="0.50">45</text>
<text transform="translate(2016.06,1404) scale(1.0069,1)" font-size="22.71" fill="#333" stroke="#333" stroke-width="0.50">46</text>
<text transform="translate(2055.29,1404) scale(1.0069,1)" font-size="22.71" fill="#333" stroke="#333" stroke-width="0.50">47</text>
<text transform="translate(2094.29,1404) scale(1.0069,1)" font-size="22.71" fill="#333" stroke="#333" stroke-width="0.50">48</text>
<text transform="translate(2133.40,1404) scale(1.0069,1)" font-size="22.71" fill="#333" stroke="#333" stroke-width="0.50">49</text>
<text transform="translate(2172.40,1404) scale(1.0069,1)" font-size="22.71" fill="#333" stroke="#333" stroke-width="0.50">50</text>
<text transform="translate(2211.29,1404) scale(1.0069,1)" font-size="22.71" fill="#333" stroke="#333" stroke-width="0.50">51</text>
<text transform="translate(2250.64,1404) scale(1.0069,1)" font-size="22.71" fill="#333" stroke="#333" stroke-width="0.50">52</text>
<text transform="translate(2302.10,1404) scale(1.0069,1)" font-size="22.71" fill="#333" stroke="#333" stroke-width="0.50">0</text>
<path d="M254.4 1437.3h8.6M273.1 1437.3h8.6M358.8 1437.3h8.6M377.6 1437.3h8.6M396.2 1437.3h8.6M415.0 1437.3h8.6M433.5 1437.3h8.6M452.3 1437.3h8.6M536.1 1437.3h8.6M554.9 1437.3h8.6M573.5 1437.3h8.6M592.5 1437.3h8.6M610.8 1437.3h8.6M711.0 1437.3h8.6M729.5 1437.3h8.6M748.1 1437.3h8.6M766.5 1437.3h8.6M785.1 1437.3h8.6M803.8 1437.3h8.6M894.2 1437.3h8.6M912.7 1437.3h8.6M931.5 1437.3h8.6M950.1 1437.3h8.6M968.5 1437.3h8.6M987.0 1437.3h8.6M1086.2 1437.3h8.6M1104.8 1437.3h8.6M1123.2 1437.3h8.6M1141.7 1437.3h8.6M1160.5 1437.3h8.6M1248.2 1437.3h8.6M1267.0 1437.3h8.6M1285.6 1437.3h8.6M1304.2 1437.3h8.6M1322.9 1437.3h8.6M1341.5 1437.3h8.6M1421.3 1437.3h8.6M1440.1 1437.3h8.6M1458.6 1437.3h8.6M1477.2 1437.3h8.6M1495.6 1437.3h8.6M1514.6 1437.3h8.6M1610.6 1437.3h8.6M1629.1 1437.3h8.6M1647.9 1437.3h8.6M1666.1 1437.3h8.6M1685.1 1437.3h8.6M1767.2 1437.3h8.6M1785.7 1437.3h8.6M1804.3 1437.3h8.6M1823.1 1437.3h8.6M1842.1 1437.3h8.6M1933.0 1437.3h8.6M1951.8 1437.3h8.6M1970.4 1437.3h8.6M1989.0 1437.3h8.6M2007.3 1437.3h8.6M2026.3 1437.3h8.6M2125.3 1437.3h8.6M2143.9 1437.3h8.6M2162.8 1437.3h8.6M2181.2 1437.3h8.6M2200.1 1437.3h8.6M2288.8 1437.3h8.6M2307.3 1437.3h8.6" stroke="#666" stroke-width="4.5" fill="none"/>
<rect x="2369.2" y="67.2" width="41.5" height="41.5" rx="4" fill="#fff" stroke="#262626" stroke-width="2"/>
<text transform="translate(2432.02,99.56) scale(0.9732,1)" font-size="31.59" fill="#333" stroke="#333" stroke-width="0.70" stroke-linejoin="round">2001</text>
<rect x="2369.2" y="121.1" width="41.5" height="41.5" rx="4" fill="#fff" stroke="#262626" stroke-width="2"/>
<text transform="translate(2432.02,153.66) scale(0.9732,1)" font-size="31.59" fill="#333" stroke="#333" stroke-width="0.70" stroke-linejoin="round">2002</text>
<rect x="2369.2" y="176.2" width="41.5" height="41.5" rx="4" fill="#fff" stroke="#262626" stroke-width="2"/>
<text transform="translate(2432.02,207.56) scale(0.9732,1)" font-size="31.59" fill="#333" stroke="#333" stroke-width="0.70" stroke-linejoin="round">2003</text>
<rect x="2369.2" y="230.2" width="41.5" height="41.5" rx="4" fill="#fff" stroke="#262626" stroke-width="2"/>
<text transform="translate(2432.02,261.96) scale(0.9732,1)" font-size="31.59" fill="#333" stroke="#333" stroke-width="0.70" stroke-linejoin="round">2004</text>
<rect x="2369.2" y="285.1" width="41.5" height="41.5" rx="4" fill="#fff" stroke="#262626" stroke-width="2"/>
<text transform="translate(2432.02,316.46) scale(0.9732,1)" font-size="31.59" fill="#333" stroke="#333" stroke-width="0.70" stroke-linejoin="round">2005</text>
<rect x="2369.2" y="339.4" width="41.5" height="41.5" rx="4" fill="#fff" stroke="#262626" stroke-width="2"/>
<text transform="translate(2432.02,371.76) scale(0.9732,1)" font-size="31.59" fill="#333" stroke="#333" stroke-width="0.70" stroke-linejoin="round">2006</text>
<rect x="2369.2" y="394.3" width="41.5" height="41.5" rx="4" fill="#fff" stroke="#262626" stroke-width="2"/>
<text transform="translate(2432.02,425.46) scale(0.9732,1)" font-size="31.59" fill="#333" stroke="#333" stroke-width="0.70" stroke-linejoin="round">2007</text>
<rect x="2369.2" y="448.2" width="41.5" height="41.5" rx="4" fill="#fff" stroke="#262626" stroke-width="2"/>
<text transform="translate(2432.02,479.86) scale(0.9732,1)" font-size="31.59" fill="#333" stroke="#333" stroke-width="0.70" stroke-linejoin="round">2008</text>
<rect x="2369.2" y="502.6" width="41.5" height="41.5" rx="4" fill="#fff" stroke="#262626" stroke-width="2"/>
<text transform="translate(2432.02,534.66) scale(0.9732,1)" font-size="31.59" fill="#333" stroke="#333" stroke-width="0.70" stroke-linejoin="round">2009</text>
<rect x="2369.2" y="557.2" width="41.5" height="41.5" rx="4" fill="#fff" stroke="#262626" stroke-width="2"/>
<text transform="translate(2432.02,588.76) scale(0.9732,1)" font-size="31.59" fill="#333" stroke="#333" stroke-width="0.70" stroke-linejoin="round">2010</text>
<rect x="2369.2" y="611.6" width="41.5" height="41.5" rx="4" fill="#fff" stroke="#262626" stroke-width="2"/>
<text transform="translate(2432.02,643.56) scale(0.9732,1)" font-size="31.59" fill="#333" stroke="#333" stroke-width="0.70" stroke-linejoin="round">2011</text>
<rect x="2369.2" y="666.2" width="41.5" height="41.5" rx="4" fill="#fff" stroke="#262626" stroke-width="2"/>
<text transform="translate(2432.02,697.66) scale(0.9732,1)" font-size="31.59" fill="#333" stroke="#333" stroke-width="0.70" stroke-linejoin="round">2012</text>
<rect x="2369.2" y="720.4" width="41.5" height="41.5" rx="4" fill="#fff" stroke="#262626" stroke-width="2"/>
<text transform="translate(2432.02,752.46) scale(0.9732,1)" font-size="31.59" fill="#333" stroke="#333" stroke-width="0.70" stroke-linejoin="round">2013</text>
<rect x="2369.2" y="774.4" width="41.5" height="41.5" rx="4" fill="#fff" stroke="#262626" stroke-width="2"/>
<text transform="translate(2432.02,806.56) scale(0.9732,1)" font-size="31.59" fill="#333" stroke="#333" stroke-width="0.70" stroke-linejoin="round">2014</text>
<rect x="2369.2" y="829.0" width="41.5" height="41.5" rx="4" fill="#fff" stroke="#262626" stroke-width="2"/>
<text transform="translate(2432.02,860.96) scale(0.9732,1)" font-size="31.59" fill="#333" stroke="#333" stroke-width="0.70" stroke-linejoin="round">2015</text>
<rect x="2369.2" y="883.6" width="41.5" height="41.5" rx="4" fill="#fff" stroke="#262626" stroke-width="2"/>
<text transform="translate(2432.02,915.36) scale(0.9732,1)" font-size="31.59" fill="#333" stroke="#333" stroke-width="0.70" stroke-linejoin="round">2016</text>
<rect x="2369.2" y="938.4" width="41.5" height="41.5" rx="4" fill="#fff" stroke="#262626" stroke-width="2"/>
<text transform="translate(2432.02,969.46) scale(0.9732,1)" font-size="31.59" fill="#333" stroke="#333" stroke-width="0.70" stroke-linejoin="round">2017</text>
<rect x="2369.2" y="992.8" width="41.5" height="41.5" rx="4" fill="#fff" stroke="#262626" stroke-width="2"/>
<text transform="translate(2432.02,1024.26) scale(0.9732,1)" font-size="31.59" fill="#333" stroke="#333" stroke-width="0.70" stroke-linejoin="round">2018</text>
<rect x="2369.2" y="1047.5" width="41.5" height="41.5" rx="4" fill="#fff" stroke="#262626" stroke-width="2"/>
<text transform="translate(2432.02,1078.36) scale(0.9732,1)" font-size="31.59" fill="#333" stroke="#333" stroke-width="0.70" stroke-linejoin="round">2019</text>
<rect x="2370" y="1102.1" width="40" height="40" rx="3" fill="#550d08" stroke="#000" stroke-width="4"/>
<path d="M2379.0 1121.7L2386.2 1129.8L2400.7 1112.0" fill="none" stroke="#fff" stroke-width="4" stroke-linecap="round" stroke-linejoin="round"/>
<text transform="translate(2432.02,1133.66) scale(0.9732,1)" font-size="31.59" fill="#550d08" stroke="#550d08" stroke-width="0.70" stroke-linejoin="round">2020</text>
<rect x="2370" y="1157.6" width="40" height="40" rx="3" fill="#00007f" stroke="#000" stroke-width="4"/>
<path d="M2379.0 1177.2L2386.2 1185.3L2400.7 1167.5" fill="none" stroke="#fff" stroke-width="4" stroke-linecap="round" stroke-linejoin="round"/>
<text transform="translate(2432.02,1189.56) scale(0.9732,1)" font-size="31.59" fill="#00007f" stroke="#00007f" stroke-width="0.70" stroke-linejoin="round">2021</text>
<rect x="2370" y="1211.6" width="40" height="40" rx="3" fill="#7f7f28" stroke="#000" stroke-width="4"/>
<path d="M2379.0 1231.2L2386.2 1239.3L2400.7 1221.5" fill="none" stroke="#fff" stroke-width="4" stroke-linecap="round" stroke-linejoin="round"/>
<text transform="translate(2432.02,1243.46) scale(0.9732,1)" font-size="31.59" fill="#7f7f28" stroke="#7f7f28" stroke-width="0.70" stroke-linejoin="round">2022</text>
<rect x="2370" y="1265.6" width="40" height="40" rx="3" fill="#b023bf" stroke="#000" stroke-width="4"/>
<path d="M2379.0 1285.2L2386.2 1293.3L2400.7 1275.5" fill="none" stroke="#fff" stroke-width="4" stroke-linecap="round" stroke-linejoin="round"/>
<text transform="translate(2432.02,1297.56) scale(0.9732,1)" font-size="31.59" fill="#b023bf" stroke="#b023bf" stroke-width="0.70" stroke-linejoin="round">2023</text>
<rect x="2370" y="1319.4" width="40" height="40" rx="3" fill="#55bdbf" stroke="#000" stroke-width="4"/>
<path d="M2379.0 1339.0L2386.2 1347.1L2400.7 1329.3" fill="none" stroke="#fff" stroke-width="4" stroke-linecap="round" stroke-linejoin="round"/>
<text transform="translate(2432.02,1351.56) scale(0.9732,1)" font-size="31.59" fill="#55bdbf" stroke="#55bdbf" stroke-width="0.70" stroke-linejoin="round">2024</text>
<rect x="2370" y="1369.7" width="40" height="40" rx="3" fill="#ea3281" stroke="#000" stroke-width="4"/>
<path d="M2379.0 1389.3L2386.2 1397.4L2400.7 1379.6" fill="none" stroke="#fff" stroke-width="4" stroke-linecap="round" stroke-linejoin="round"/>
<text transform="translate(2432.02,1401.86) scale(0.9732,1)" font-size="31.59" fill="#ea3281" stroke="#ea3281" stroke-width="0.70" stroke-linejoin="round">2025</text>
<rect x="2370" y="1421.4" width="40" height="40" rx="3" fill="#377f7d" stroke="#000" stroke-width="4"/>
<path d="M2379.0 1441.0L2386.2 1449.1L2400.7 1431.3" fill="none" stroke="#fff" stroke-width="4" stroke-linecap="round" stroke-linejoin="round"/>
<text transform="translate(2432.02,1453.76) scale(0.9732,1)" font-size="31.59" fill="#377f7d" stroke="#377f7d" stroke-width="0.70" stroke-linejoin="round">2026</text>
</svg></body></html>
